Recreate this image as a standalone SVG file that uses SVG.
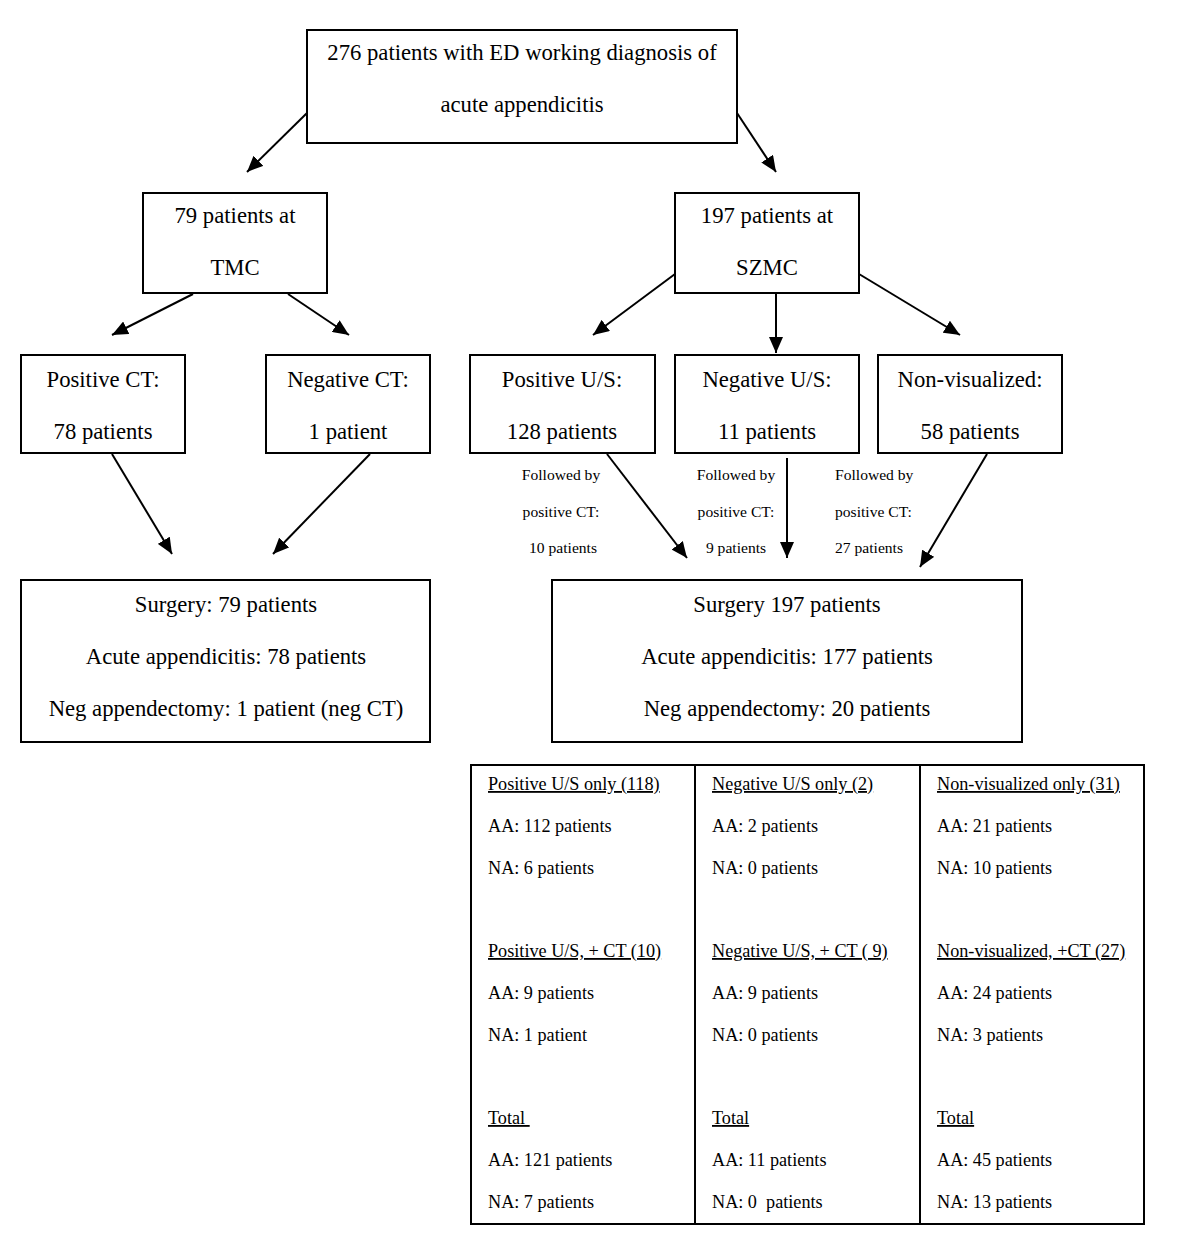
<svg xmlns="http://www.w3.org/2000/svg" width="1200" height="1252" viewBox="0 0 1200 1252">
<style>
.box{fill:#fff;stroke:#000;stroke-width:2}
.t{font-family:"Liberation Serif","Times New Roman",serif;font-size:22.7px;fill:#000;text-anchor:middle}
.s{font-family:"Liberation Serif","Times New Roman",serif;font-size:15.6px;fill:#000}
.c{font-family:"Liberation Serif","Times New Roman",serif;font-size:18.2px;fill:#000}
.u{text-decoration:underline}
.ln{stroke:#000;stroke-width:2;fill:none;marker-end:url(#ah)}
</style>
<defs>
<marker id="ah" markerUnits="userSpaceOnUse" markerWidth="16" markerHeight="14" refX="16" refY="7" orient="auto">
<path d="M0,0 L16,7 L0,14 z" fill="#000"/>
</marker>
</defs>
<rect width="1200" height="1252" fill="#fff"/>
<g id="connectors">
<line class="ln" x1="307" y1="113" x2="247" y2="172"/>
<line class="ln" x1="737" y1="113" x2="776" y2="172"/>
<line class="ln" x1="193" y1="294" x2="112" y2="335"/>
<line class="ln" x1="288" y1="294" x2="349" y2="335"/>
<line class="ln" x1="675" y1="274" x2="593" y2="335"/>
<line class="ln" x1="776" y1="294" x2="776" y2="353"/>
<line class="ln" x1="859" y1="274" x2="960" y2="335"/>
<line class="ln" x1="112" y1="454" x2="172" y2="554"/>
<line class="ln" x1="370" y1="454" x2="273" y2="554"/>
<line class="ln" x1="607" y1="454" x2="687" y2="558"/>
<line class="ln" x1="787" y1="458" x2="787" y2="558"/>
<line class="ln" x1="987" y1="454" x2="920" y2="567"/>
</g>
<g id="n-top">
<rect class="box" x="307" y="30" width="430" height="113"/>
<text class="t" x="522" y="60">276 patients with ED working diagnosis of</text>
<text class="t" x="522" y="112">acute appendicitis</text>
</g>
<g id="n-tmc">
<rect class="box" x="143" y="193" width="184" height="100"/>
<text class="t" x="235" y="223">79 patients at</text>
<text class="t" x="235" y="275">TMC</text>
</g>
<g id="n-szmc">
<rect class="box" x="675" y="193" width="184" height="100"/>
<text class="t" x="767" y="223">197 patients at</text>
<text class="t" x="767" y="275">SZMC</text>
</g>
<g id="n-posct">
<rect class="box" x="21" y="355" width="164" height="98"/>
<text class="t" x="103" y="387">Positive CT:</text>
<text class="t" x="103" y="439">78 patients</text>
</g>
<g id="n-negct">
<rect class="box" x="266" y="355" width="164" height="98"/>
<text class="t" x="348" y="387">Negative CT:</text>
<text class="t" x="348" y="439">1 patient</text>
</g>
<g id="n-posus">
<rect class="box" x="470" y="355" width="185" height="98"/>
<text class="t" x="562" y="387">Positive U/S:</text>
<text class="t" x="562" y="439">128 patients</text>
</g>
<g id="n-negus">
<rect class="box" x="675" y="355" width="184" height="98"/>
<text class="t" x="767" y="387">Negative U/S:</text>
<text class="t" x="767" y="439">11 patients</text>
</g>
<g id="n-nonvis">
<rect class="box" x="878" y="355" width="184" height="98"/>
<text class="t" x="970" y="387">Non-visualized:</text>
<text class="t" x="970" y="439">58 patients</text>
</g>
<g id="labels">
<text class="s" x="561" y="480" text-anchor="middle">Followed by</text>
<text class="s" x="561" y="517" text-anchor="middle">positive CT:</text>
<text class="s" x="563" y="553" text-anchor="middle">10 patients</text>
<text class="s" x="736" y="480" text-anchor="middle">Followed by</text>
<text class="s" x="736" y="517" text-anchor="middle">positive CT:</text>
<text class="s" x="736" y="553" text-anchor="middle">9 patients</text>
<text class="s" x="835" y="480">Followed by</text>
<text class="s" x="835" y="517">positive CT:</text>
<text class="s" x="835" y="553">27 patients</text>
</g>
<g id="n-surg-left">
<rect class="box" x="21" y="580" width="409" height="162"/>
<text class="t" x="226" y="612">Surgery: 79 patients</text>
<text class="t" x="226" y="664">Acute appendicitis: 78 patients</text>
<text class="t" x="226" y="716">Neg appendectomy: 1 patient (neg CT)</text>
</g>
<g id="n-surg-right">
<rect class="box" x="552" y="580" width="470" height="162"/>
<text class="t" x="787" y="612">Surgery 197 patients</text>
<text class="t" x="787" y="664">Acute appendicitis: 177 patients</text>
<text class="t" x="787" y="716">Neg appendectomy: 20 patients</text>
</g>
<g id="n-table">
<rect class="box" x="471" y="765" width="673" height="459"/>
<line x1="695" y1="765" x2="695" y2="1224" stroke="#000" stroke-width="2"/>
<line x1="920" y1="765" x2="920" y2="1224" stroke="#000" stroke-width="2"/>
<text class="c u" x="488" y="790">Positive U/S only (118)</text>
<text class="c" x="488" y="832">AA: 112 patients</text>
<text class="c" x="488" y="874">NA: 6 patients</text>
<text class="c u" x="488" y="957">Positive U/S, + CT (10)</text>
<text class="c" x="488" y="999">AA: 9 patients</text>
<text class="c" x="488" y="1041">NA: 1 patient</text>
<text class="c u" x="488" y="1124" xml:space="preserve">Total </text>
<text class="c" x="488" y="1166">AA: 121 patients</text>
<text class="c" x="488" y="1208">NA: 7 patients</text>
<text class="c u" x="712" y="790">Negative U/S only (2)</text>
<text class="c" x="712" y="832">AA: 2 patients</text>
<text class="c" x="712" y="874">NA: 0 patients</text>
<text class="c u" x="712" y="957" xml:space="preserve">Negative U/S, + CT ( 9)</text>
<text class="c" x="712" y="999">AA: 9 patients</text>
<text class="c" x="712" y="1041">NA: 0 patients</text>
<text class="c u" x="712" y="1124">Total</text>
<text class="c" x="712" y="1166">AA: 11 patients</text>
<text class="c" x="712" y="1208" xml:space="preserve">NA: 0  patients</text>
<text class="c u" x="937" y="790">Non-visualized only (31)</text>
<text class="c" x="937" y="832">AA: 21 patients</text>
<text class="c" x="937" y="874">NA: 10 patients</text>
<text class="c u" x="937" y="957">Non-visualized, +CT (27)</text>
<text class="c" x="937" y="999">AA: 24 patients</text>
<text class="c" x="937" y="1041">NA: 3 patients</text>
<text class="c u" x="937" y="1124">Total</text>
<text class="c" x="937" y="1166">AA: 45 patients</text>
<text class="c" x="937" y="1208">NA: 13 patients</text>
</g>
</svg>
